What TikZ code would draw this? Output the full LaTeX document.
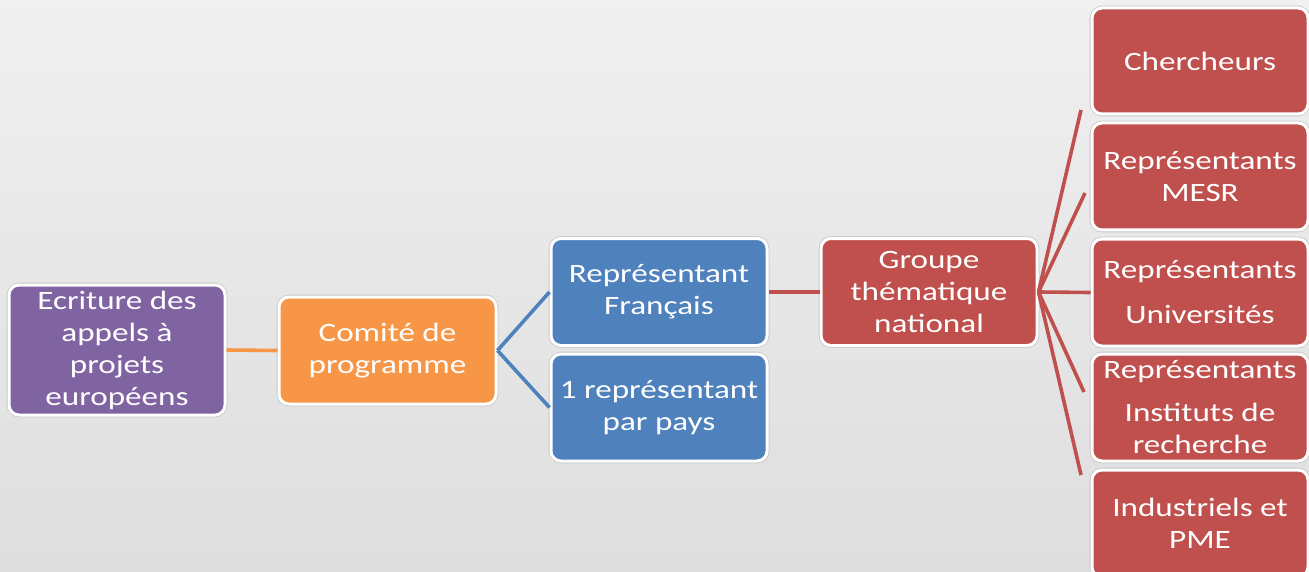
\documentclass[tikz,border=0pt]{standalone}
\usepackage{fontspec}
\setmainfont[FakeStretch=1.25]{Carlito}
\definecolor{cpurple}{HTML}{8064A2}
\definecolor{corange}{HTML}{F79646}
\definecolor{cblue}{HTML}{4F81BD}
\definecolor{cred}{HTML}{C0504D}
\begin{document}
\begin{tikzpicture}[x=1pt,y=-1pt,
  box/.style={rounded corners=10pt, draw=white, line width=3pt,
    preaction={draw=black!22, line width=4.6pt},
    minimum width=216pt, minimum height=107pt, inner sep=0pt,
    align=center, text=white, font=\fontsize{26.5}{32}\selectfont},
  link/.style={line width=3.6pt}]
\useasboundingbox (0,0) rectangle (1309,572);
\shade[top color=white!94!black, bottom color=white!87!black] (0,0) rectangle (1309,572);
\clip (0,0) rectangle (1309,572);
% nodes
\node[box, fill=cpurple, minimum height=130pt] (ecr) at (117,350) {Ecriture des\\appels à\\projets\\européens};
\node[box, fill=corange, minimum width=217pt] (com) at (387.5,350.5) {Comité de\\programme};
\node[box, fill=cblue] (rf) at (659,292) {Représentant\\Français};
\node[box, fill=cblue] (rp) at (659,407.5) {1 représentant\\par pays};
\node[box, fill=cred] (gtn) at (929,292) {Groupe\\thématique\\national};
\node[box, fill=cred, minimum height=106pt] (che) at (1200,61) {Chercheurs};
\node[box, fill=cred] (mesr) at (1200,176.5) {Représentants\\MESR};
\node[box, fill=cred] (univ) at (1200,292.5) {Représentants\\[13pt]Universités};
\node[box, fill=cred] (inst) at (1200,407.5) {Représentants\\[11pt]Instituts de\\recherche};
\node[box, fill=cred] (ind) at (1200,523.5) {Industriels et\\PME};
% free ends of the fan
\coordinate (f1) at (1081,110);
\coordinate (f2) at (1085,193);
\coordinate (f4) at (1084,392);
\coordinate (f5) at (1081,475);
% connectors
\draw[link, corange] (ecr.east) -- (com.west);
\draw[link, cblue] (com.east) -- (rf.west);
\draw[link, cblue] (com.east) -- (rp.west);
\draw[link, cred] (rf.east) -- (gtn.west);
\draw[link, cred] (gtn.east) -- (f1);
\draw[link, cred] (gtn.east) -- (f2);
\draw[link, cred] (gtn.east) -- (univ.west);
\draw[link, cred] (gtn.east) -- (f4);
\draw[link, cred] (gtn.east) -- (f5);
\end{tikzpicture}
\end{document}
